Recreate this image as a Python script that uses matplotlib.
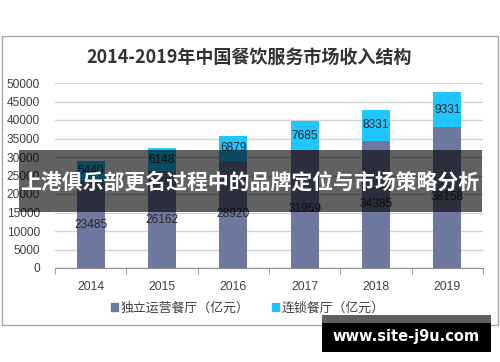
#!/usr/bin/env python3
"""Stacked bars: China catering revenue structure 2014-2019."""

import matplotlib

matplotlib.use("Agg")
import matplotlib.pyplot as plt
from matplotlib.patches import Rectangle

YEARS = ["2014", "2015", "2016", "2017", "2018", "2019"]
INDEPENDENT = [23485, 26162, 28920, 31959, 34385, 38158]
CHAIN = [5440, 6148, 6879, 7685, 8331, 9331]
SERIES_NAMES = ["独立运营餐厅（亿元）", "连锁餐厅（亿元）"]
TITLE = "2014-2019年中国餐饮服务市场收入结构"
BANNER = "上港俱乐部更名过程中的品牌定位与市场策略分析"
WATERMARK = "www.site-j9u.com"

W, H = 500, 362
CJK = ["Noto Sans CJK SC", "DejaVu Sans"]
LATIN = ["Liberation Sans", "DejaVu Sans"]


def fx(px):
    return px / W


def fy(py):
    return 1 - py / H


def main():
    fig = plt.figure(figsize=(W / 100, H / 100), dpi=100)
    fig.patch.set_facecolor("white")

    ax = fig.add_axes([fx(55), fy(268), fx(483) - fx(55), fy(83) - fy(268)])
    x = list(range(len(YEARS)))
    b1 = ax.bar(x, INDEPENDENT, width=0.39, color="#6f79a0", zorder=3)
    b2 = ax.bar(x, CHAIN, width=0.39, bottom=INDEPENDENT, color="#1fc6ff", zorder=3)
    for bars in (b1, b2):
        ax.bar_label(bars, label_type="center", fontsize=8.6, color="#262626",
                     family=LATIN)

    ax.set_xlim(-0.5, len(YEARS) - 0.5)
    ax.set_ylim(0, 50000)
    ax.set_yticks(range(0, 50001, 5000))
    ax.set_yticklabels([str(v) for v in range(0, 50001, 5000)], family=LATIN)
    ax.set_xticks(x)
    ax.set_xticklabels(YEARS, family=LATIN)
    ax.set_xticks([i - 0.5 for i in range(len(YEARS) + 1)], minor=True)
    ax.tick_params(axis="x", which="major", length=0, labelsize=8.7,
                   labelcolor="#404040", pad=9)
    ax.tick_params(axis="x", which="minor", length=4, color="#8c8c8c")
    ax.tick_params(axis="y", length=0, labelsize=8.6, labelcolor="#404040", pad=11)
    ax.grid(axis="y", color="#d2d2d2", linewidth=1, zorder=0)
    for side in ("left", "right", "top"):
        ax.spines[side].set_visible(False)
    ax.spines["bottom"].set_color("#8c8c8c")

    fig.text(fx(249), fy(57), TITLE, ha="center", va="center", fontsize=13,
             fontweight="bold", color="#333333", family=CJK)

    handles = [Rectangle((0, 0), 1, 1, color=b1.patches[0].get_facecolor()),
               Rectangle((0, 0), 1, 1, color=b2.patches[0].get_facecolor())]
    fig.legend(handles, SERIES_NAMES, loc="center", bbox_to_anchor=(fx(248), fy(308)),
               ncol=2, frameon=False, handlelength=0.5, handleheight=0.5,
               handletextpad=0.2, columnspacing=1.8,
               prop={"family": CJK, "size": 9.3}, labelcolor="#404040")

    # chart frame
    fig.add_artist(Rectangle((fx(2), fy(325)), fx(498) - fx(2), fy(36) - fy(325),
                             transform=fig.transFigure, fill=False,
                             edgecolor="#a6a6a6", linewidth=1, zorder=1))

    # overlay banner
    fig.add_artist(Rectangle((fx(19), fy(212)), fx(482) - fx(19), fy(150) - fy(212),
                             transform=fig.transFigure, facecolor="black",
                             alpha=0.62, edgecolor="none", zorder=5))
    fig.text(fx(250), fy(182), BANNER, ha="center", va="center", fontsize=15,
             fontweight="bold", color="white", family=CJK, zorder=6)

    # watermark
    fig.add_artist(Rectangle((fx(322), fy(323)), fx(491) - fx(322), fy(315) - fy(323),
                             transform=fig.transFigure, facecolor="#5f5f5f",
                             edgecolor="none", zorder=5))
    fig.add_artist(Rectangle((fx(322), fy(352)), fx(491) - fx(322), fy(323) - fy(352),
                             transform=fig.transFigure, facecolor="black",
                             edgecolor="none", zorder=5))
    fig.text(fx(406), fy(337), WATERMARK, ha="center", va="center", fontsize=10.5,
             fontweight="bold", color="white", family="DejaVu Sans", zorder=6)

    fig.savefig("out.png", dpi=100)
    plt.close(fig)


if __name__ == "__main__":
    main()
